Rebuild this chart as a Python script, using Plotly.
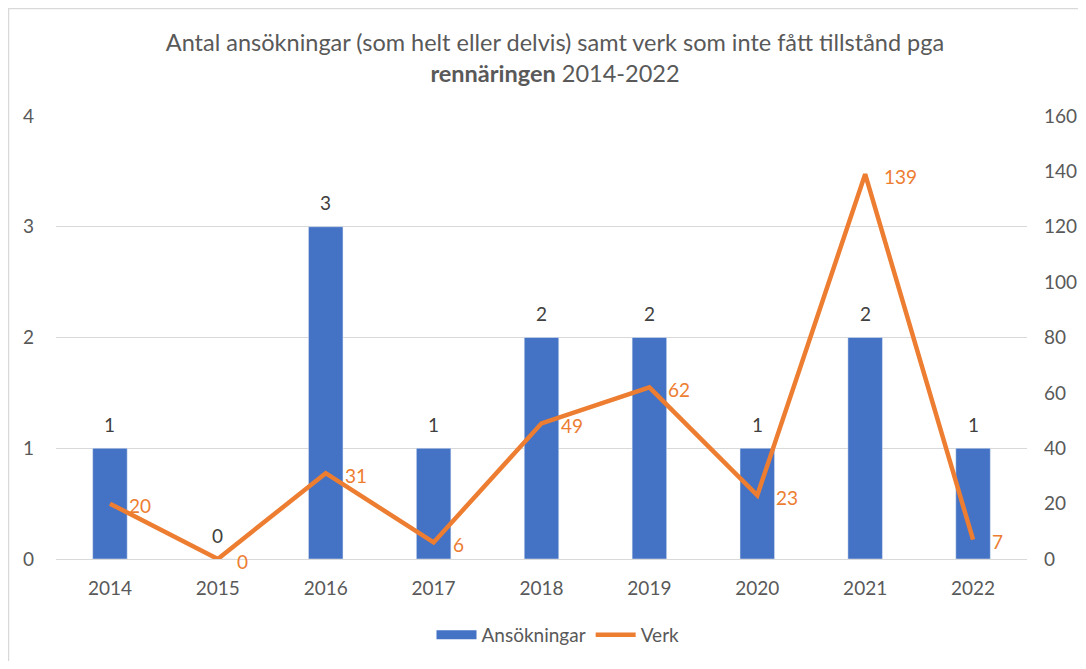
import plotly.graph_objects as go

years = ["2014", "2015", "2016", "2017", "2018", "2019", "2020", "2021", "2022"]
ansokningar = [1, 0, 3, 1, 2, 2, 1, 2, 1]
verk = [20, 0, 31, 6, 49, 62, 23, 139, 7]

FONT = "Lato, 'Open Sans', sans-serif"
GRAY = "#595959"
BLUE = "#4472C4"
ORANGE = "#ED7D31"
# page has an 8px body margin: figure origin sits at (8, 8)
W, H = 1070, 653
L, T = 48, 108
R = W - (1027 - 8)
B = H - (559 - 8)
PW, PH = W - L - R, H - T - B

fig = go.Figure()
fig.add_trace(go.Bar(
    x=years, y=ansokningar, name="Ansökningar",
    marker_color=BLUE, width=0.32, yaxis="y", showlegend=False,
))
# legend entry drawn as a wide band like the reference legend
fig.add_trace(go.Scatter(
    x=[None], y=[None], name="Ansökningar", mode="lines",
    line=dict(color=BLUE, width=9), yaxis="y", hoverinfo="skip",
))
fig.add_trace(go.Scatter(
    x=years, y=verk, name="Verk", mode="lines",
    line=dict(color=ORANGE, width=4.5), yaxis="y2", cliponaxis=False,
))

# bar value labels (x given as category index)
for i, v in enumerate(ansokningar):
    fig.add_annotation(x=i, y=v, xref="x", yref="y", text=str(v), showarrow=False,
                       yshift=24, font=dict(size=19, color="#404040", family=FONT))
# line value labels
for i, v in enumerate(verk):
    fig.add_annotation(x=i, y=v, xref="x", yref="y2", text=str(v), showarrow=False,
                       xanchor="left", xshift=17, yshift=-2,
                       font=dict(size=19, color=ORANGE, family=FONT))

fig.update_layout(
    width=W, height=H,
    margin=dict(l=L, r=R, t=T, b=B, autoexpand=False),
    paper_bgcolor="white", plot_bgcolor="white",
    font=dict(family=FONT, color=GRAY, size=19),
    title=dict(
        text="Antal ansökningar (som helt eller delvis) samt verk som inte fått tillstånd pga<br><b>rennäringen</b> 2014-2022",
        x=(555 - 8 - L) / PW, xanchor="center", xref="paper", y=1 - 43 / H, yanchor="top", yref="container",
        font=dict(size=23.5, color=GRAY, family=FONT), automargin=False,
    ),
    xaxis=dict(
        type="category", categoryorder="array", categoryarray=years,
        range=[-0.5, len(years) - 0.5],
        showgrid=False, showline=True, linecolor="#D9D9D9", linewidth=1,
        ticks="", tickfont=dict(size=19, color=GRAY), ticklabelstandoff=12,
        automargin=False,
    ),
    yaxis=dict(
        range=[0, 4], dtick=1, showgrid=True, gridcolor="#D9D9D9",
        zeroline=False, showline=False, ticks="",
        tickfont=dict(size=19, color=GRAY), ticklabelstandoff=21, automargin=False,
    ),
    yaxis2=dict(
        range=[0, 160], dtick=20, overlaying="y", side="right",
        showgrid=False, zeroline=False, showline=False, ticks="",
        tickfont=dict(size=19, color=GRAY), ticklabelstandoff=16, automargin=False,
    ),
    legend=dict(
        orientation="h", x=(558 - 8 - L) / PW, xanchor="center", y=-57 / PH, yanchor="top",
        font=dict(size=19, color=GRAY), traceorder="normal", itemwidth=40,
    ),
    showlegend=True,
)

fig.add_shape(type="rect", xref="paper", yref="paper",
              x0=(-L + 0.5) / PW, x1=(W - L + 20) / PW,
              y0=-(B + 20) / PH, y1=(PH + T - 0.5) / PH,
              line=dict(color="#D9D9D9", width=1.5), layer="below")

fig.write_html("out.html")
